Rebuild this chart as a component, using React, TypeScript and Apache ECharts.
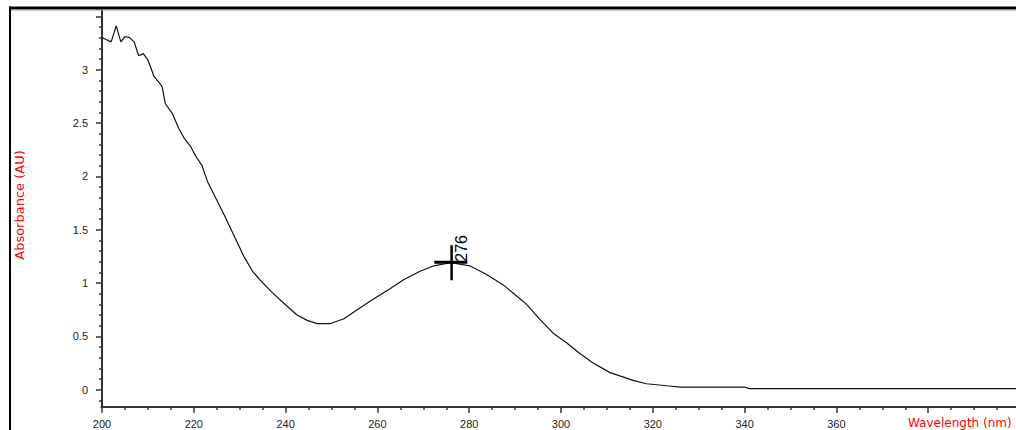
import React, { useEffect, useRef } from "react";
import * as echarts from "echarts";

// Wavelength (nm) and absorbance (AU)
const wavelengths = [
  200, 201, 202, 203.1, 204.1, 205, 206, 207, 208, 209, 210, 211.3, 212.4, 213.1,
  213.8, 215.3, 216.7, 218, 219.3, 220.4, 221.8, 223, 224.4, 226.6, 228.8, 230.9,
  232.8, 234.6, 237.1, 239.6, 242.5, 244.7, 246.9, 249.8, 252.7, 255.6, 258.8,
  262.5, 265.7, 269.3, 272.2, 276, 280.2, 283.8, 287.5, 290, 292.5, 295.4, 298.3,
  301.2, 304.1, 307, 310.7, 315.7, 318.6, 323, 326, 340, 341, 400,
];
const absorbance = [
  3.3, 3.28, 3.26, 3.41, 3.26, 3.31, 3.3, 3.26, 3.13, 3.15, 3.09, 2.94, 2.88, 2.84,
  2.68, 2.59, 2.45, 2.35, 2.28, 2.19, 2.1, 1.95, 1.83, 1.64, 1.44, 1.25,
  1.11, 1.02, 0.91, 0.81, 0.7, 0.65, 0.62, 0.62, 0.665, 0.75, 0.84,
  0.94, 1.03, 1.11, 1.16, 1.19, 1.16, 1.08, 0.98, 0.89, 0.8, 0.66, 0.53,
  0.44, 0.34, 0.25, 0.16, 0.087, 0.056, 0.037, 0.025, 0.025, 0.01, 0.01,
];
const hiddenXLabels = [380, 400];
const yLabelMax = 3;
const peakWavelength = 276;
const peakAbsorbance = 1.19;
const peakLabel = "276";
const xAxisName = "Wavelength (nm)";
const yAxisName = "Absorbance (AU)";

const axisColor = "#333";
const labelFont = { fontFamily: "Liberation Sans, Arial, sans-serif", fontSize: 11, color: "#222" };

export default function App() {
  const ref = useRef<HTMLDivElement>(null);
  useEffect(() => {
    document.body.style.margin = "0";
    if (!ref.current) return;
    const chart = echarts.init(ref.current, undefined, { renderer: "svg" });
    const data = wavelengths.map((w, i) => [w, absorbance[i]]);
    chart.setOption({
      animation: false,
      backgroundColor: "#fff",
      grid: { left: 102, right: -4, top: 9, bottom: 23, outerBoundsMode: "none", containLabel: false },
      xAxis: {
        type: "value",
        min: 200,
        max: 400,
        interval: 20,
        axisLine: { show: true, onZero: false, lineStyle: { color: axisColor, width: 2 } },
        axisTick: { show: true, length: 6, lineStyle: { color: axisColor, width: 1.5 } },
        minorTick: { show: true, splitNumber: 4, length: 3, lineStyle: { color: axisColor, width: 1.5 } },
        splitLine: { show: false },
        minorSplitLine: { show: false },
        axisLabel: {
          ...labelFont,
          margin: 11,
          showMinLabel: true,
          formatter: (v: number) => (hiddenXLabels.includes(Math.round(v)) ? "" : String(v)),
        },
      },
      yAxis: {
        type: "value",
        min: -0.162,
        max: 3.568,
        minInterval: 0.5,
        maxInterval: 0.5,
        splitNumber: 8,
        axisLine: { show: true, onZero: false, lineStyle: { color: axisColor, width: 2 } },
        axisTick: { show: true, length: 6, lineStyle: { color: axisColor, width: 1.5 } },
        minorTick: { show: true, splitNumber: 5, length: 3, lineStyle: { color: axisColor, width: 1.5 } },
        splitLine: { show: false },
        minorSplitLine: { show: false },
        axisLabel: {
          ...labelFont,
          margin: 14,
          formatter: (v: number) => {
            const k = Math.round(v * 2);
            if (Math.abs(v * 2 - k) > 1e-6 || v > yLabelMax + 0.01 || v < -0.01) return "";
            return String(k / 2);
          },
        },
      },
      series: [
        {
          type: "line",
          data,
          showSymbol: false,
          symbol: "none",
          silent: true,
          lineStyle: { color: "#111", width: 1.2 },
          markPoint: {
            silent: true,
            symbol: "path://M0,15.5 H16 V0 H18.5 V15.5 H33 V18.5 H18.5 V35 H16 V18.5 H0 Z",
            symbolSize: [33, 35],
            symbolKeepAspect: false,
            itemStyle: { color: "#000" },
            label: { show: false },
            data: [{ coord: [peakWavelength, peakAbsorbance] }],
          },
        },
      ],
    });
    const p = chart.convertToPixel({ gridIndex: 0 }, [peakWavelength, peakAbsorbance]) as number[];
    chart.setOption({
      graphic: [
        { type: "rect", z: 100, shape: { x: 9, y: 6.5, width: 1007, height: 3 }, style: { fill: "#000" } },
        { type: "rect", z: 100, shape: { x: 9, y: 9.5, width: 1007, height: 1 }, style: { fill: "#999" } },
        { type: "rect", z: 100, shape: { x: 9, y: 6.5, width: 2, height: 424 }, style: { fill: "#000" } },
        { type: "rect", z: 100, shape: { x: 93, y: 405.5, width: 7.5, height: 3.5 }, style: { fill: "#fff" } },
        {
          type: "text",
          z: 100,
          x: 19,
          y: 205,
          rotation: Math.PI / 2,
          style: {
            text: yAxisName,
            fill: "#ff0000",
            font: "13px 'DejaVu Sans', sans-serif",
            align: "center",
            verticalAlign: "middle",
            textAlign: "center",
            textVerticalAlign: "middle",
          },
        },
        {
          type: "text",
          z: 100,
          x: 908,
          y: 417,
          style: {
            text: xAxisName,
            fill: "#ff0000",
            font: "12px 'DejaVu Sans', sans-serif",
            align: "left",
            verticalAlign: "top",
            textAlign: "left",
            textVerticalAlign: "top",
          },
        },
        {
          type: "text",
          z: 100,
          x: p[0] + 19,
          y: p[1] - 1,
          rotation: Math.PI / 2,
          style: {
            text: peakLabel,
            fill: "#000",
            font: "16px 'Liberation Sans', Arial, sans-serif",
            align: "left",
            verticalAlign: "bottom",
            textAlign: "left",
            textVerticalAlign: "bottom",
          },
        },
      ],
    });
    return () => chart.dispose();
  }, []);
  return <div ref={ref} style={{ width: 1016, height: 430 }} />;
}
